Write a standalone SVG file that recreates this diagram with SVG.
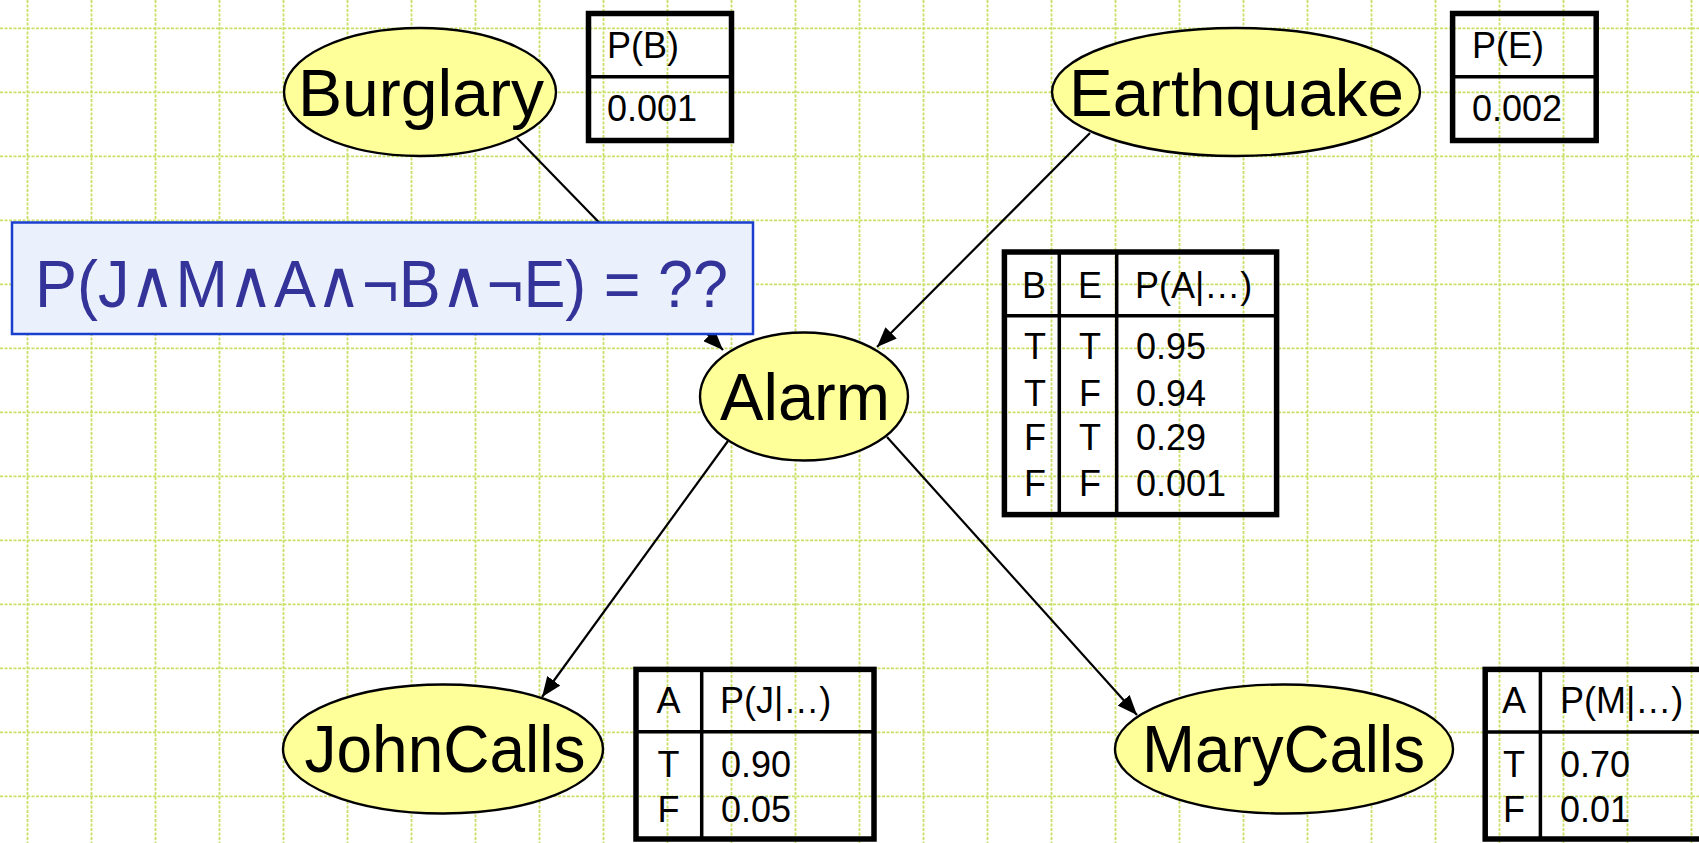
<svg xmlns="http://www.w3.org/2000/svg" width="1699" height="843" viewBox="0 0 1699 843">
<style>
.grid line{stroke:#c9e066;stroke-width:1.8;stroke-dasharray:3 1.5}
.node ellipse{fill:#ffff99;stroke:#000;stroke-width:2.4}
.lbl{font-family:"Liberation Sans",Arial,sans-serif;font-size:66px;fill:#000}
.cpt rect{fill:none;stroke:#000;stroke-width:5.5}
.cpt line{stroke:#000;stroke-width:3.5}
.cpt text{font-family:"Liberation Sans",Arial,sans-serif;font-size:36px;fill:#000}
.mid{text-anchor:middle}
.edge{stroke:#000;stroke-width:2.2;fill:none;marker-end:url(#arr)}
.query rect{fill:#eaf0fc;stroke:#1a3fcf;stroke-width:2.5}
.query text{font-family:"Liberation Sans","DejaVu Sans",sans-serif;font-size:66px;fill:#333399}
</style>
<defs>
<marker id="arr" markerUnits="userSpaceOnUse" markerWidth="22" markerHeight="16" refX="20" refY="8" orient="auto">
<path d="M0,0 L20,8 L0,16 Z" fill="#000"/>
</marker>
</defs>
<rect width="1699" height="843" fill="#fff"/>
<g class="grid">
<line x1="27.5" y1="0" x2="27.5" y2="843"/><line x1="91.5" y1="0" x2="91.5" y2="843"/><line x1="155.5" y1="0" x2="155.5" y2="843"/><line x1="219.5" y1="0" x2="219.5" y2="843"/><line x1="283.5" y1="0" x2="283.5" y2="843"/><line x1="347.5" y1="0" x2="347.5" y2="843"/><line x1="411.5" y1="0" x2="411.5" y2="843"/><line x1="475.5" y1="0" x2="475.5" y2="843"/><line x1="539.5" y1="0" x2="539.5" y2="843"/><line x1="603.5" y1="0" x2="603.5" y2="843"/><line x1="667.5" y1="0" x2="667.5" y2="843"/><line x1="731.5" y1="0" x2="731.5" y2="843"/><line x1="795.5" y1="0" x2="795.5" y2="843"/><line x1="859.5" y1="0" x2="859.5" y2="843"/><line x1="923.5" y1="0" x2="923.5" y2="843"/><line x1="987.5" y1="0" x2="987.5" y2="843"/><line x1="1051.5" y1="0" x2="1051.5" y2="843"/><line x1="1115.5" y1="0" x2="1115.5" y2="843"/><line x1="1179.5" y1="0" x2="1179.5" y2="843"/><line x1="1243.5" y1="0" x2="1243.5" y2="843"/><line x1="1307.5" y1="0" x2="1307.5" y2="843"/><line x1="1371.5" y1="0" x2="1371.5" y2="843"/><line x1="1435.5" y1="0" x2="1435.5" y2="843"/><line x1="1499.5" y1="0" x2="1499.5" y2="843"/><line x1="1563.5" y1="0" x2="1563.5" y2="843"/><line x1="1627.5" y1="0" x2="1627.5" y2="843"/><line x1="1691.5" y1="0" x2="1691.5" y2="843"/>
<line x1="0" y1="28.3" x2="1699" y2="28.3"/><line x1="0" y1="92.3" x2="1699" y2="92.3"/><line x1="0" y1="156.3" x2="1699" y2="156.3"/><line x1="0" y1="220.3" x2="1699" y2="220.3"/><line x1="0" y1="284.3" x2="1699" y2="284.3"/><line x1="0" y1="348.3" x2="1699" y2="348.3"/><line x1="0" y1="412.3" x2="1699" y2="412.3"/><line x1="0" y1="476.3" x2="1699" y2="476.3"/><line x1="0" y1="540.3" x2="1699" y2="540.3"/><line x1="0" y1="604.3" x2="1699" y2="604.3"/><line x1="0" y1="668.3" x2="1699" y2="668.3"/><line x1="0" y1="732.3" x2="1699" y2="732.3"/><line x1="0" y1="796.3" x2="1699" y2="796.3"/>
</g>
<g id="connectors">
<line class="edge" x1="517" y1="138" x2="723" y2="350"/>
<line class="edge" x1="1090" y1="133" x2="877" y2="347"/>
<line class="edge" x1="728" y1="441" x2="542" y2="697"/>
<line class="edge" x1="887" y1="437" x2="1137" y2="715"/>
</g>
<g id="burglary" class="node">
<ellipse cx="420" cy="92" rx="136" ry="64"/>
<text class="lbl mid" x="421" y="116" textLength="246" lengthAdjust="spacingAndGlyphs">Burglary</text>
</g>
<g id="earthquake" class="node">
<ellipse cx="1236" cy="92" rx="184" ry="64"/>
<text class="lbl mid" x="1236.5" y="116" textLength="335" lengthAdjust="spacingAndGlyphs">Earthquake</text>
</g>
<g id="alarm" class="node">
<ellipse cx="804" cy="396.5" rx="104" ry="64"/>
<text class="lbl mid" x="805" y="420" textLength="170" lengthAdjust="spacingAndGlyphs">Alarm</text>
</g>
<g id="johncalls" class="node">
<ellipse cx="443" cy="749" rx="160" ry="64.5"/>
<text class="lbl mid" x="445" y="772" textLength="281" lengthAdjust="spacingAndGlyphs">JohnCalls</text>
</g>
<g id="marycalls" class="node">
<ellipse cx="1284" cy="749" rx="169" ry="64.5"/>
<text class="lbl mid" x="1283.5" y="772" textLength="283" lengthAdjust="spacingAndGlyphs">MaryCalls</text>
</g>
<g id="cpt-b" class="cpt">
<rect x="588.5" y="13.5" width="143" height="127"/>
<line x1="588.5" y1="76.7" x2="731.5" y2="76.7"/>
<text x="607" y="58">P(B)</text>
<text x="607" y="121">0.001</text>
</g>
<g id="cpt-e" class="cpt">
<rect x="1452.6" y="13.5" width="143.6" height="127"/>
<line x1="1452.6" y1="76.7" x2="1596.2" y2="76.7"/>
<text x="1472" y="58">P(E)</text>
<text x="1472" y="121">0.002</text>
</g>
<g id="cpt-a" class="cpt">
<rect x="1004.4" y="252" width="272.2" height="262.6"/>
<line x1="1059.3" y1="252" x2="1059.3" y2="514.6"/>
<line x1="1116.7" y1="252" x2="1116.7" y2="514.6"/>
<line x1="1004.4" y1="315.7" x2="1276.6" y2="315.7"/>
<text class="mid" x="1034" y="297.7">B</text>
<text class="mid" x="1090" y="297.7">E</text>
<text x="1135" y="297.7">P(A|…)</text>
<text class="mid" x="1035" y="359.3">T</text><text class="mid" x="1090" y="359.3">T</text><text x="1136" y="359.3">0.95</text>
<text class="mid" x="1035" y="405.7">T</text><text class="mid" x="1090" y="405.7">F</text><text x="1136" y="405.7">0.94</text>
<text class="mid" x="1035" y="450">F</text><text class="mid" x="1090" y="450">T</text><text x="1136" y="450">0.29</text>
<text class="mid" x="1035" y="495.7">F</text><text class="mid" x="1090" y="495.7">F</text><text x="1136" y="495.7">0.001</text>
</g>
<g id="cpt-j" class="cpt">
<rect x="636" y="669.4" width="238" height="169.6"/>
<line x1="701.7" y1="669.4" x2="701.7" y2="839"/>
<line x1="636" y1="731.7" x2="874" y2="731.7"/>
<text class="mid" x="668.5" y="712.7">A</text>
<text x="720" y="712.7">P(J|…)</text>
<text class="mid" x="668.5" y="776.7">T</text><text x="721" y="776.7">0.90</text>
<text class="mid" x="668.5" y="821.7">F</text><text x="721" y="821.7">0.05</text>
</g>
<g id="cpt-m" class="cpt">
<rect x="1485.2" y="669.4" width="230" height="169.6"/>
<line x1="1540.4" y1="669.4" x2="1540.4" y2="839"/>
<line x1="1485.2" y1="732" x2="1699" y2="732"/>
<text class="mid" x="1514" y="712.7">A</text>
<text x="1560" y="712.7">P(M|…)</text>
<text class="mid" x="1514" y="776.7">T</text><text x="1560" y="776.7">0.70</text>
<text class="mid" x="1514" y="821.7">F</text><text x="1560" y="821.7">0.01</text>
</g>
<g id="query" class="query">
<rect x="12" y="222.5" width="741" height="111.5"/>
<text x="35" y="307" textLength="693" lengthAdjust="spacingAndGlyphs">P(J∧M∧A∧¬B∧¬E) = ??</text>
</g>
</svg>
